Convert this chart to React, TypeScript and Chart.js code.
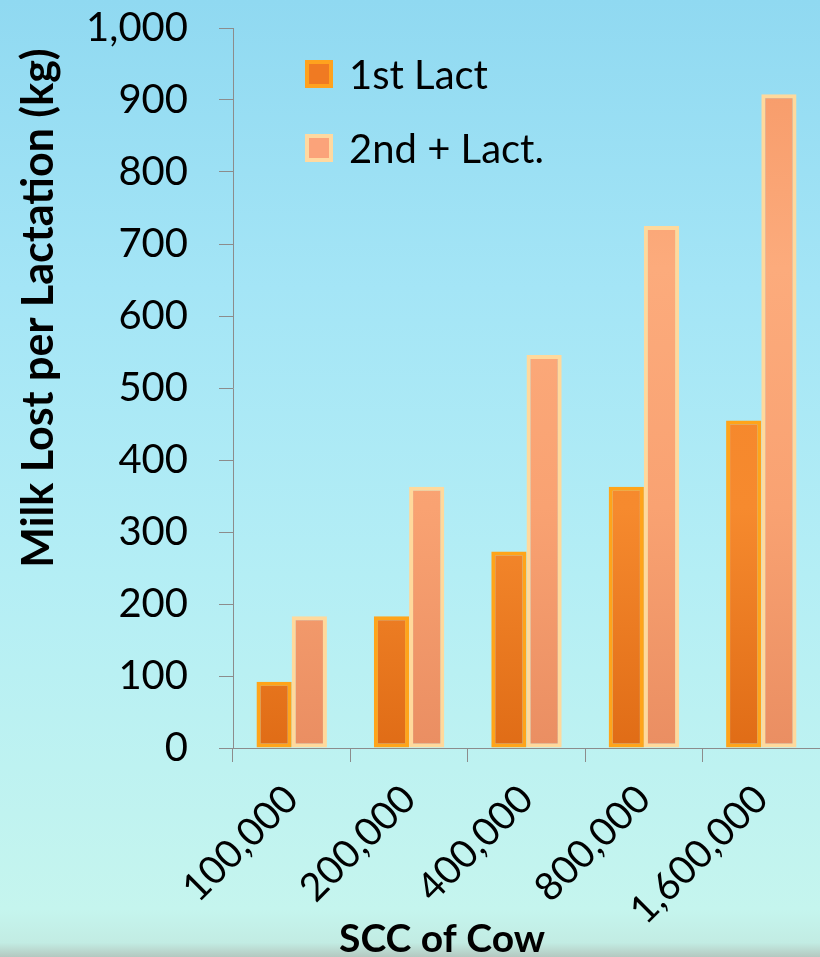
import React, { useEffect, useRef } from "react";
import { Chart, registerables } from "chart.js";

Chart.register(...registerables);

const categories = ["100,000", "200,000", "400,000", "800,000", "1,600,000"];
const seriesNames = ["1st Lact", "2nd + Lact."];
const firstLact = [92, 183, 273, 363, 455];
const secondLact = [183, 363, 546, 725, 908];
const yTicks = [0, 100, 200, 300, 400, 500, 600, 700, 800, 900, 1000];
const yTitle = "Milk Lost per Lactation (kg)";
const xTitle = "SCC of Cow";

const FONT = "Lato, 'Open Sans', sans-serif";

const titlePlugin = {
  id: "customTitles",
  afterDraw(chart: any) {
    const ctx = chart.ctx;
    ctx.save();
    ctx.fillStyle = "#000";
    ctx.font = `bold 43px ${FONT}`;
    ctx.textAlign = "center";
    ctx.textBaseline = "middle";
    ctx.translate(39, 308);
    ctx.rotate(-Math.PI / 2);
    ctx.fillText(yTitle, 0, 0);
    ctx.restore();
    ctx.save();
    ctx.fillStyle = "#000";
    ctx.font = `bold 39px ${FONT}`;
    ctx.textAlign = "center";
    ctx.textBaseline = "alphabetic";
    ctx.fillText(xTitle, 442, 952);
    ctx.restore();
  },
};

function grad(ctx: any, area: any, stops: string[]) {
  if (!area) return stops[0];
  const g = ctx.createLinearGradient(0, area.top, 0, area.bottom);
  stops.forEach((c, i) => g.addColorStop(i / (stops.length - 1), c));
  return g;
}

export default function App() {
  const ref = useRef<HTMLCanvasElement | null>(null);
  useEffect(() => {
    document.body.style.margin = "0";
    const canvas = ref.current!;
    const chart = new Chart(canvas, {
      type: "bar",
      data: {
        labels: categories,
        datasets: [
          {
            label: seriesNames[0],
            data: firstLact,
            backgroundColor: (c: any) =>
              grad(c.chart.ctx, c.chart.chartArea, ["#dc6610", "#f5852a", "#f68a2e", "#e06c16"]),
            borderColor: "#ffa41a",
            borderWidth: 4,
            borderSkipped: false,
            categoryPercentage: 0.6,
            barPercentage: 1,
          },
          {
            label: seriesNames[1],
            data: secondLact,
            backgroundColor: (c: any) =>
              grad(c.chart.ctx, c.chart.chartArea, ["#f69866", "#fcab7c", "#f9a272", "#ea8e62"]),
            borderColor: "#ffd99c",
            borderWidth: 4,
            borderSkipped: false,
            categoryPercentage: 0.6,
            barPercentage: 1,
          },
        ],
      },
      options: {
        animation: false,
        responsive: false,
        maintainAspectRatio: false,
        layout: { padding: { top: 28, right: 0, bottom: 0, left: 0 } },
        plugins: {
          legend: { display: false },
          tooltip: { enabled: false },
        },
        scales: {
          x: {
            grid: {
              display: true,
              drawOnChartArea: false,
              drawTicks: true,
              tickLength: 14,
              color: "#8c8c8c",
              offset: true,
            },
            border: { display: true, color: "#8c8c8c", width: 1 },
            ticks: {
              color: "#000",
              font: { family: FONT, size: 39 },
              minRotation: 45,
              maxRotation: 45,
              padding: 14,
            },
            afterFit(scale: any) {
              scale.height = 209;
              scale.paddingLeft = 0;
              scale.paddingRight = 0;
            },
          },
          y: {
            min: 0,
            max: 1000,
            afterBuildTicks(scale: any) {
              scale.ticks = yTicks.map((v) => ({ value: v }));
            },
            grid: {
              display: true,
              drawOnChartArea: false,
              drawTicks: true,
              tickLength: 14,
              color: "#8c8c8c",
            },
            border: { display: true, color: "#8c8c8c", width: 1 },
            ticks: {
              color: "#000",
              font: { family: FONT, size: 40 },
              padding: 31,
              callback: (v: any) => Number(v).toLocaleString("en-US"),
            },
            afterFit(scale: any) {
              scale.width = 233;
              scale.paddingTop = 0;
              scale.paddingBottom = 0;
            },
          },
        },
      },
      plugins: [titlePlugin],
    } as any);
    return () => chart.destroy();
  }, []);

  const legendItems = [
    { name: seriesNames[0], fill: "#f07a22", border: "#ffa21e", top: 58 },
    { name: seriesNames[1], fill: "#fba37a", border: "#ffd9a0", top: 132 },
  ];

  return (
    <div
      style={{
        position: "relative",
        width: 820,
        height: 957,
        overflow: "hidden",
        background:
          "linear-gradient(to bottom, #90d9f1 0%, #a4e5f6 30%, #b4eef5 60%, #c5f5ee 95%, #c2ece3 98.5%, #b4c8c0 100%)",
      }}
    >
      <canvas ref={ref} width={820} height={957} style={{ position: "absolute", left: 0, top: 0 }} />
      {legendItems.map((it) => (
        <div
          key={it.name}
          style={{
            position: "absolute",
            left: 305,
            top: it.top,
            display: "flex",
            alignItems: "center",
            height: 32,
          }}
        >
          <div
            style={{
              width: 20,
              height: 20,
              background: it.fill,
              border: `4px solid ${it.border}`,
            }}
          />
          <span
            style={{
              marginLeft: 16,
              fontFamily: FONT,
              fontSize: 40,
              color: "#000",
              lineHeight: "32px",
              whiteSpace: "nowrap",
            }}
          >
            {it.name}
          </span>
        </div>
      ))}
    </div>
  );
}
